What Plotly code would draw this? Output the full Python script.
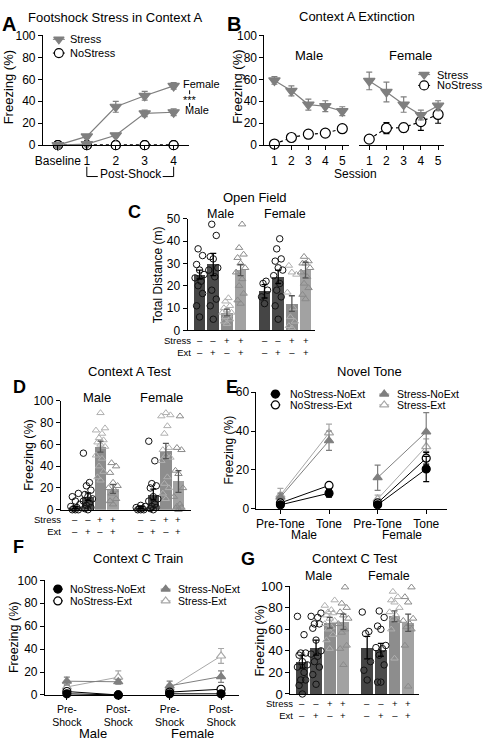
import plotly.graph_objects as go

W, H = 484, 750
FONT = "Arial, 'Liberation Sans', Helvetica, sans-serif"

# ---------------- DATA ----------------
GROUPS = ["NoStress-NoExt", "NoStress-Ext", "Stress-NoExt", "Stress-Ext"]
STRESS_SIGNS = ["\u2013", "\u2013", "+", "+"]
EXT_SIGNS = ["\u2013", "+", "\u2013", "+"]
SEXES = ["Male", "Female"]

# A: Footshock Stress in Context A
A_LABELS = ["Baseline", "1", "2", "3", "4"]
A_FEMALE_STRESS = [0, 8, 35, 45, 54]
A_FEMALE_STRESS_SEM = [0, 1.5, 5, 4, 3]
A_MALE_STRESS = [0, 1, 9, 29, 30]
A_MALE_STRESS_SEM = [0, 1, 1.5, 3, 3]
A_FEMALE_NOSTRESS = [0, 0, 0, 0, 0]
A_MALE_NOSTRESS = [0, 0, 0, 0, 0]

# B: Context A Extinction
B_SESSIONS = [1, 2, 3, 4, 5]
B_MALE_STRESS = [59, 49.5, 37, 35.5, 31]
B_MALE_STRESS_SEM = [3.5, 4.5, 5, 5, 4]
B_MALE_NOSTRESS = [1, 7, 10, 11, 15]
B_MALE_NOSTRESS_SEM = [1, 1.5, 1.5, 1.5, 3]
B_FEMALE_STRESS = [58.5, 48.5, 37, 27.5, 36]
B_FEMALE_STRESS_SEM = [8, 9, 7, 4.5, 4.5]
B_FEMALE_NOSTRESS = [5.5, 15.5, 16, 21.5, 28]
B_FEMALE_NOSTRESS_SEM = [1, 5, 4, 8, 8]

# C: Open Field (total distance, m)
C_MALE_MEAN = [25, 29.5, 8, 27]
C_MALE_SEM = [2, 5, 1.5, 2.5]
C_FEMALE_MEAN = [17.5, 24, 12, 27]
C_FEMALE_SEM = [3, 3, 3.5, 3.5]
C_MALE_POINTS = [
    [36.5, 33.5, 29.5, 27, 25, 23.5, 22, 20, 16.5, 11, 6],
    [47.5, 42.5, 33, 32, 28, 27, 24, 18, 14, 11, 5],
    [14.5, 13, 11, 10, 9, 8, 8, 7, 6, 5, 4, 3],
    [47.5, 37, 34, 32.5, 30, 28, 26, 23, 20, 16.5, 13.5, 12],
]
C_FEMALE_POINTS = [
    [22, 21, 18, 15, 12],
    [41, 36.5, 32, 31, 28, 27, 24.5, 21, 18, 15, 11, 5],
    [29, 26, 25, 17, 10, 6, 4, 2, 1],
    [33, 31, 30, 30, 28, 26, 24, 21, 19, 16, 14],
]

# D: Context A Test (freezing %)
D_MALE_MEAN = [2, 12, 58, 19]
D_MALE_SEM = [1, 3.5, 5, 4]
D_FEMALE_MEAN = [2, 14, 54, 26]
D_FEMALE_SEM = [1, 5, 7, 10]
D_MALE_POINTS = [
    [15, 12, 8, 5, 3, 2, 1, 0, 0, 0],
    [52, 25, 22, 18, 14, 12, 10, 8, 6, 4, 2, 1, 0],
    [89, 75, 73, 70, 66, 64, 62, 60, 58, 50, 47, 40, 35, 30, 27],
    [43, 40, 34, 25, 22, 20, 18, 15, 10, 8, 5],
]
D_FEMALE_POINTS = [
    [4, 3, 2, 1, 0, 0, 0, 1],
    [63, 45, 24, 22, 20, 12, 10, 8, 5, 3, 2, 1, 0],
    [89, 87, 86, 77, 70, 57, 55, 50, 48, 45, 30, 24, 20, 15, 10],
    [86, 57, 55, 36, 33, 20, 12, 5, 3, 2, 1, 0],
]

# E: Novel Tone (freezing %), order: Male Pre-Tone, Male Tone, Female Pre-Tone, Female Tone
E_LABELS = ["Pre-Tone", "Tone", "Pre-Tone", "Tone"]
E_VALUES = {
    "NoStress-NoExt": [2, 8, 2, 20.5],
    "NoStress-Ext": [3, 12, 3, 26],
    "Stress-NoExt": [6, 35, 16, 39.5],
    "Stress-Ext": [7, 39, 5, 32],
}
E_SEM = {
    "NoStress-NoExt": [1, 2, 1, 6.5],
    "NoStress-Ext": [1, 1.5, 1, 3],
    "Stress-NoExt": [2, 5, 6.5, 10],
    "Stress-Ext": [3.5, 4.5, 2, 4],
}

# F: Context C Train (freezing %), order: Male Pre, Male Post, Female Pre, Female Post
F_LABELS = ["Pre-<br>Shock", "Post-<br>Shock", "Pre-<br>Shock", "Post-<br>Shock"]
F_VALUES = {
    "NoStress-NoExt": [1, 0, 1, 1],
    "NoStress-Ext": [3, 0, 2.5, 5],
    "Stress-NoExt": [12, 11.5, 8, 16],
    "Stress-Ext": [7, 15.5, 6, 34],
}
F_SEM = {
    "NoStress-NoExt": [0.5, 0, 0.5, 0.5],
    "NoStress-Ext": [1, 0, 1, 2],
    "Stress-NoExt": [3.5, 2, 4, 5],
    "Stress-Ext": [2, 5.5, 3, 6.5],
}

# G: Context C Test (freezing %)
G_MALE_MEAN = [30, 43, 66, 67]
G_MALE_SEM = [6, 7, 5, 7]
G_FEMALE_MEAN = [43, 41, 72, 66]
G_FEMALE_SEM = [10.5, 6, 5, 8]
G_MALE_POINTS = [
    [72, 55, 38, 38, 36, 30, 27, 25, 20, 13, 13, 8, 0],
    [75, 72, 71, 65, 65, 61, 50, 40, 37, 35, 30, 25, 18, 9],
    [87, 82, 78, 76, 75, 73, 70, 68, 65, 62, 60, 55, 50, 42],
    [99, 84, 80, 76, 73, 70, 65, 60, 57, 45, 42, 27],
]
G_FEMALE_POINTS = [
    [76, 58, 56, 30, 22, 13],
    [77, 71, 63, 60, 45, 43, 42, 36, 27, 11, 11],
    [95, 90, 87, 85, 80, 76, 73, 70, 68, 60, 33],
    [99, 90, 85, 70, 68, 65, 62, 60, 45, 7],
]

# ---------------- STYLE ----------------
BAR_COLORS = ["#454545", "#4b4b4b", "#8d8d8d", "#a2a2a2"]
PT_SYMBOL = ["circle-open", "circle-open", "triangle-up-open", "triangle-up-open"]
PT_COLOR = ["#111111", "#111111", "#b0b0b0", "#8a8a8a"]
ERR_COLOR = ["#000000", "#000000", "#555555", "#555555"]
STRESS_GRAY = "#7f7f7f"
LINE_STYLE = {
    "NoStress-NoExt": dict(color="#000000", symbol="circle", fill="#000000"),
    "NoStress-Ext": dict(color="#000000", symbol="circle", fill="#ffffff"),
    "Stress-NoExt": dict(color="#7f7f7f", symbol="triangle-up", fill="#7f7f7f"),
    "Stress-Ext": dict(color="#a8a8a8", symbol="triangle-up", fill="#ffffff"),
}

fig = go.Figure()
layout_axes = {}
annotations = []
shapes = []
count = [0]


def rng(a0, a1, p0, s, d0=0):
    return [d0 + (a0 - p0) / s, d0 + (a1 - p0) / s]


def add_axes(xpx, xrange, ypx, yrange, ytickvals=None, xtickvals=None, xticktext=None,
             show_y=True, tickfont=12, xtickfont=None, visible=True):
    count[0] += 1
    n = count[0]
    xr = "x" if n == 1 else f"x{n}"
    yr = "y" if n == 1 else f"y{n}"
    xa = dict(domain=[xpx[0] / W, xpx[1] / W], range=xrange, anchor=yr, showgrid=False,
              zeroline=False, showline=visible, linecolor="black", linewidth=1, fixedrange=True,
              tickfont=dict(size=xtickfont or tickfont, family=FONT, color="black"))
    if xtickvals is not None:
        xa.update(tickmode="array", tickvals=xtickvals, ticktext=xticktext, ticks="outside",
                  ticklen=4, tickwidth=1, tickcolor="black", showticklabels=True)
    else:
        xa.update(showticklabels=False, ticks="")
    ya = dict(domain=[1 - ypx[1] / H, 1 - ypx[0] / H], range=yrange, anchor=xr, showgrid=False,
              zeroline=False, fixedrange=True)
    if show_y:
        ya.update(showline=True, linecolor="black", linewidth=1, tickmode="array",
                  tickvals=ytickvals, ticks="outside", ticklen=4, tickwidth=1, tickcolor="black",
                  tickfont=dict(size=tickfont, family=FONT, color="black"))
    else:
        ya.update(showline=False, showticklabels=False, ticks="")
    if not visible:
        xa.update(visible=False)
        ya.update(visible=False)
    layout_axes["xaxis" if n == 1 else f"xaxis{n}"] = xa
    layout_axes["yaxis" if n == 1 else f"yaxis{n}"] = ya
    return xr, yr


def text(x, y, s, size=12, xanchor="center", yanchor="middle", bold=False, angle=0,
         color="black", xref="paper", align="center"):
    annotations.append(dict(
        x=x / W if xref == "paper" else x, y=1 - y / H, xref=xref, yref="paper",
        text=f"<b>{s}</b>" if bold else s, showarrow=False, xanchor=xanchor, yanchor=yanchor,
        textangle=angle, align=align, font=dict(size=size, family=FONT, color=color)))


def pline(x0, y0, x1, y1, color="black", width=1):
    shapes.append(dict(type="line", xref="paper", yref="paper", x0=x0 / W, x1=x1 / W,
                       y0=1 - y0 / H, y1=1 - y1 / H, line=dict(color=color, width=width)))


def series(xr, yr, x, y, err, color, symbol, fill, size=9, dash=None, errcolor=None, width=1.2):
    fig.add_trace(go.Scatter(
        x=x, y=y, xaxis=xr, yaxis=yr, mode="lines+markers",
        line=dict(color=color, width=width, dash=dash),
        marker=dict(symbol=symbol, size=size, color=fill, line=dict(color=color, width=1.2)),
        error_y=dict(type="data", array=err, visible=True, color=errcolor or color,
                     thickness=1.2, width=3),
        cliponaxis=False, showlegend=False, hoverinfo="skip"))


def jitter(vals, spread):
    pattern = [0, -1, 1, -0.5, 0.5, -1.5, 1.5]
    order = sorted(range(len(vals)), key=lambda i: vals[i])
    offs = [0.0] * len(vals)
    for rank, i in enumerate(order):
        offs[i] = pattern[rank % len(pattern)] * spread
    return offs


def bar_panel(xr, yr, data, gap, barw, ptsize, spread):
    for s, (means, sems, pts) in enumerate(data):
        xs = [s * (4 + gap) + k for k in range(4)]
        fig.add_trace(go.Bar(x=xs, y=means, width=barw, xaxis=xr, yaxis=yr,
                             marker=dict(color=BAR_COLORS, line=dict(width=0)),
                             showlegend=False, hoverinfo="skip"))
        for k in range(4):
            offs = jitter(pts[k], spread)
            fig.add_trace(go.Scatter(
                x=[xs[k] + o for o in offs], y=pts[k], xaxis=xr, yaxis=yr, mode="markers",
                marker=dict(symbol=PT_SYMBOL[k], size=ptsize, color=PT_COLOR[k],
                            line=dict(width=1)),
                cliponaxis=False, showlegend=False, hoverinfo="skip"))
        for k in range(4):
            fig.add_trace(go.Scatter(
                x=[xs[k]], y=[means[k]], xaxis=xr, yaxis=yr, mode="markers",
                marker=dict(size=1, color="rgba(0,0,0,0)"),
                error_y=dict(type="data", array=[sems[k]], color=ERR_COLOR[k], thickness=1.3,
                             width=3),
                cliponaxis=False, showlegend=False, hoverinfo="skip"))


def sign_rows(xr, gap, y_mid, label_right, size=9.5):
    for s in range(2):
        for k in range(4):
            pos = s * (4 + gap) + k
            text(pos, y_mid, f"{STRESS_SIGNS[k]}<br>{EXT_SIGNS[k]}", size=size, xref=xr)
    text(label_right, y_mid, "Stress<br>Ext", size=size, xanchor="right", align="right")


# ---------------- PANEL A ----------------
xa, ya = add_axes((42, 188), rng(42, 188, 57, 29), (29, 141), [0, 100], [0, 20, 40, 60, 80, 100],
                  xtickvals=list(range(len(A_LABELS))), xticktext=A_LABELS)
ax_idx = list(range(len(A_LABELS)))
series(xa, ya, ax_idx, A_MALE_NOSTRESS, [0] * 5, "#000000", "circle", "#ffffff", size=9, dash="dot")
series(xa, ya, ax_idx, A_FEMALE_NOSTRESS, [0] * 5, "#000000", "circle", "#ffffff", size=9, dash="dot")
series(xa, ya, ax_idx, A_MALE_STRESS, A_MALE_STRESS_SEM, STRESS_GRAY, "triangle-down", STRESS_GRAY, size=10)
series(xa, ya, ax_idx, A_FEMALE_STRESS, A_FEMALE_STRESS_SEM, STRESS_GRAY, "triangle-down", STRESS_GRAY, size=10)
text(114, 11, "Footshock Stress in Context A", size=13)
text(8, 17, "A", size=20, bold=True)
text(7, 82, "Freezing (%)", size=13, angle=-90)
text(180, 79, "Female", size=11, xanchor="left")
text(182, 105, "Male", size=11, xanchor="left")
text(189, 95, "***", size=11)
pline(189, 85, 189, 89)
pline(189, 98, 189, 102)
text(130, 170, "Post-Shock", size=12)
pline(86, 163, 86, 173)
pline(86, 173, 97, 173)
pline(162, 173, 173, 173)
pline(173, 173, 173, 163)

# ---------------- PANEL B ----------------
xbm, ybm = add_axes((264, 349), rng(264, 349, 274, 17, 1), (29, 141), [0, 100],
                    [0, 20, 40, 60, 80, 100], xtickvals=B_SESSIONS, xticktext=[str(s) for s in B_SESSIONS])
xbf, ybf = add_axes((359, 444), rng(359, 444, 369, 17.25, 1), (29, 141), [0, 100], show_y=False,
                    xtickvals=B_SESSIONS, xticktext=[str(s) for s in B_SESSIONS])
series(xbm, ybm, B_SESSIONS, B_MALE_NOSTRESS, B_MALE_NOSTRESS_SEM, "#000000", "circle", "#ffffff", size=10, dash="dot")
series(xbm, ybm, B_SESSIONS, B_MALE_STRESS, B_MALE_STRESS_SEM, STRESS_GRAY, "triangle-down", STRESS_GRAY, size=10)
series(xbf, ybf, B_SESSIONS, B_FEMALE_NOSTRESS, B_FEMALE_NOSTRESS_SEM, "#000000", "circle", "#ffffff", size=10, dash="dot")
series(xbf, ybf, B_SESSIONS, B_FEMALE_STRESS, B_FEMALE_STRESS_SEM, STRESS_GRAY, "triangle-down", STRESS_GRAY, size=10)
text(357, 10, "Context A Extinction", size=13)
text(233, 17, "B", size=20, bold=True)
text(237, 82, "Freezing (%)", size=13, angle=-90)
text(309, 50, "Male", size=13)
text(410, 50, "Female", size=13)
text(355, 170, "Session", size=12)

# ---------------- PANEL C ----------------
C_GAP = 0.75
xc, yc = add_axes((187, 315), rng(187, 315, 199, 13.7), (216, 330), [0, 50], [0, 10, 20, 30, 40, 50])
bar_panel(xc, yc, [(C_MALE_MEAN, C_MALE_SEM, C_MALE_POINTS),
                   (C_FEMALE_MEAN, C_FEMALE_SEM, C_FEMALE_POINTS)], C_GAP, 0.85, 6.5, 0.22)
sign_rows(xc, C_GAP, 346, 192)
text(255, 194, "Open Field", size=13)
text(134, 209, "C", size=18, bold=True)
text(220, 211, "Male", size=12.5)
text(285, 211, "Female", size=12.5)
text(157, 273, "Total Distance (m)", size=12, angle=-90)

# ---------------- PANEL D ----------------
D_GAP = 1.2
xd, yd = add_axes((60, 190), rng(60, 190, 74.5, 12.6), (402, 513), [0, 100], [0, 20, 40, 60, 80, 100])
bar_panel(xd, yd, [(D_MALE_MEAN, D_MALE_SEM, D_MALE_POINTS),
                   (D_FEMALE_MEAN, D_FEMALE_SEM, D_FEMALE_POINTS)], D_GAP, 0.9, 6.5, 0.24)
sign_rows(xd, D_GAP, 529, 62)
text(129, 372, "Context A Test", size=13)
text(19, 388, "D", size=18, bold=True)
text(96, 398, "Male", size=13)
text(161, 398, "Female", size=13)
text(28, 457, "Freezing (%)", size=12.5, angle=-90)

# ---------------- PANEL E ----------------
xe, ye = add_axes((256, 447), rng(256, 447, 280, 48.7), (393, 512), [0, 60], [0, 20, 40, 60],
                  xtickvals=list(range(4)), xticktext=E_LABELS)
for g in ["Stress-Ext", "Stress-NoExt", "NoStress-Ext", "NoStress-NoExt"]:
    st = LINE_STYLE[g]
    for s in range(2):
        series(xe, ye, [2 * s, 2 * s + 1], E_VALUES[g][2 * s:2 * s + 2], E_SEM[g][2 * s:2 * s + 2],
               st["color"], st["symbol"], st["fill"], size=8, width=1)
text(369, 372, "Novel Tone", size=13)
text(231, 388, "E", size=18, bold=True)
text(228, 452, "Freezing (%)", size=12, angle=-90)
text(304, 539, SEXES[0], size=12)
text(402, 539, SEXES[1], size=12)

# ---------------- PANEL F ----------------
xf, yf = add_axes((44, 238), rng(44, 238, 66, 51.5), (585, 702), [0, 100], [0, 20, 40, 60, 80, 100],
                  xtickvals=list(range(4)), xticktext=F_LABELS, xtickfont=10.5)
for g in ["Stress-Ext", "Stress-NoExt", "NoStress-Ext", "NoStress-NoExt"]:
    st = LINE_STYLE[g]
    for s in range(2):
        series(xf, yf, [2 * s, 2 * s + 1], F_VALUES[g][2 * s:2 * s + 2], F_SEM[g][2 * s:2 * s + 2],
               st["color"], st["symbol"], st["fill"], size=8, width=1)
text(137, 563, "Context C Train", size=13)
text(18, 551, "F", size=18, bold=True)
text(13, 643, "Freezing (%)", size=12.5, angle=-90)
text(92, 741, SEXES[0], size=13)
text(192, 741, SEXES[1], size=13)

# ---------------- PANEL G ----------------
G_GAP = 0.74
xg, yg = add_axes((290, 419), rng(290, 419, 302, 13.7), (591, 701), [0, 100], [0, 20, 40, 60, 80, 100],
                  tickfont=13)
bar_panel(xg, yg, [(G_MALE_MEAN, G_MALE_SEM, G_MALE_POINTS),
                   (G_FEMALE_MEAN, G_FEMALE_SEM, G_FEMALE_POINTS)], G_GAP, 0.87, 6.5, 0.24)
sign_rows(xg, G_GAP, 717, 295)
text(354, 563, "Context C Test", size=13)
text(248, 563, "G", size=18, bold=True)
text(260, 646, "Freezing (%)", size=12.5, angle=-90)
text(318, 581, SEXES[0], size=12.5)
text(389, 581, SEXES[1], size=12.5)

# ---------------- LEGENDS (overlay in pixel space) ----------------
xl, yl = add_axes((0, W), [0, W], (0, H), [H, 0], show_y=False, visible=False)


def legend_key(cx, cy, color, symbol, fill, size, half=6, label=None, tx=None, tsize=11):
    fig.add_trace(go.Scatter(x=[cx - half, cx + half], y=[cy, cy], xaxis=xl, yaxis=yl, mode="lines",
                             line=dict(color=color, width=1), showlegend=False, hoverinfo="skip",
                             cliponaxis=False))
    fig.add_trace(go.Scatter(x=[cx], y=[cy], xaxis=xl, yaxis=yl, mode="markers",
                             marker=dict(symbol=symbol, size=size, color=fill,
                                         line=dict(color=color, width=1.2)),
                             showlegend=False, hoverinfo="skip", cliponaxis=False))
    if label:
        text(tx, cy, label, size=tsize, xanchor="left")


legend_key(58, 33, STRESS_GRAY, "triangle-down", STRESS_GRAY, 9, label="Stress", tx=67)
legend_key(58, 47, "#000000", "circle", "#ffffff", 9, label="NoStress", tx=67)
legend_key(424, 69, STRESS_GRAY, "triangle-down", STRESS_GRAY, 9, label="Stress", tx=435)
legend_key(424, 80, "#000000", "circle", "#ffffff", 9, label="NoStress", tx=435)

for (cx, cy, tx), g in zip([(275, 395, 288), (275, 406, 288), (384, 395, 395), (384, 406, 395)], GROUPS):
    st = LINE_STYLE[g]
    legend_key(cx, cy, st["color"], st["symbol"], st["fill"], 8, half=5, label=g, tx=tx, tsize=10.5)
for (cx, cy, tx), g in zip([(57, 594, 67), (57, 606, 67), (165, 594, 175), (165, 606, 175)], GROUPS):
    st = LINE_STYLE[g]
    legend_key(cx, cy, st["color"], st["symbol"], st["fill"], 8, half=5, label=g, tx=tx, tsize=10.5)

fig.update_layout(
    width=W, height=H, margin=dict(l=0, r=0, t=0, b=0), autosize=False,
    paper_bgcolor="white", plot_bgcolor="rgba(0,0,0,0)", showlegend=False,
    font=dict(family=FONT, color="black"), annotations=annotations, shapes=shapes,
    bargap=0, **layout_axes)

fig.write_html("out.html", config={"displayModeBar": False, "staticPlot": True},
               post_script="document.body.style.margin='0px';document.body.style.overflow='hidden';")
